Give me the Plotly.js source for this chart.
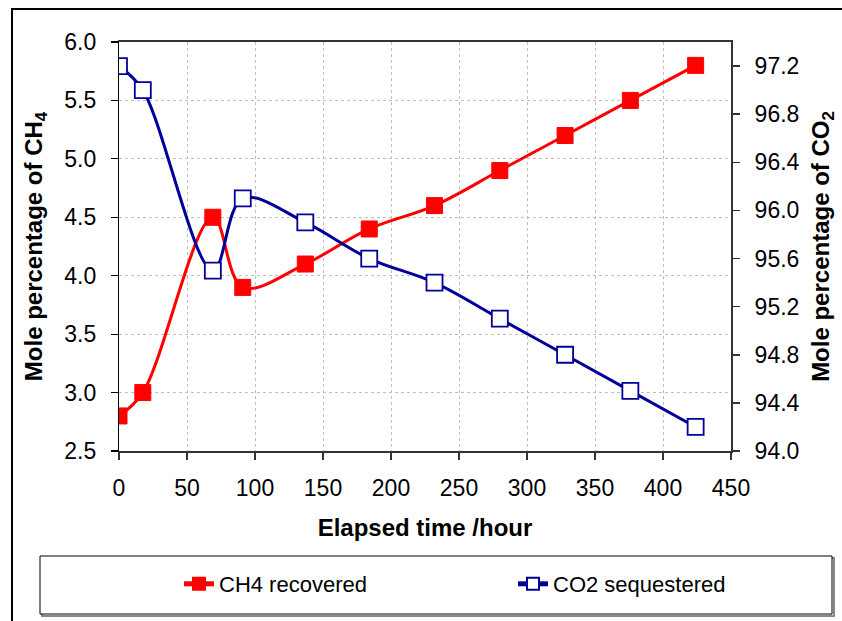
<!DOCTYPE html>
<html>
<head>
<meta charset="utf-8">
<script src="https://cdn.plot.ly/plotly-3.0.1.min.js"></script>
<style>html,body{margin:0;padding:0;background:#fff;}#chart{width:842px;height:621px;}</style>
</head>
<body>
<div id="chart"></div>
<script>
const hours = [0, 17.5, 69, 91, 137, 184, 232, 280, 328, 376, 424];
const ch4Recovered = [2.8, 3.0, 4.5, 3.9, 4.1, 4.4, 4.6, 4.9, 5.2, 5.5, 5.8];
const co2Sequestered = [97.2, 97.0, 95.5, 96.1, 95.9, 95.6, 95.4, 95.1, 94.8, 94.5, 94.2];
const xTicks = [0, 50, 100, 150, 200, 250, 300, 350, 400, 450];
const leftTicks = [2.5, 3.0, 3.5, 4.0, 4.5, 5.0, 5.5, 6.0];
const rightTicks = [94.0, 94.4, 94.8, 95.2, 95.6, 96.0, 96.4, 96.8, 97.2];

const font = 'Arial, "Liberation Sans", sans-serif';
const tickFont = {family: font, size: 23, color: '#000'};
const titleFont = {family: font, size: 24, color: '#000'};
const legendFont = {family: font, size: 22, color: '#000'};

const traces = [
  {
    x: hours, y: ch4Recovered, name: 'CH4 recovered', type: 'scatter', mode: 'lines+markers',
    line: {color: '#FF0000', width: 3, shape: 'spline', smoothing: 1},
    marker: {symbol: 'square', size: 16, color: '#FF0000', line: {color: '#FF0000', width: 1}},
    yaxis: 'y', legend: 'legend'
  },
  {
    x: hours, y: co2Sequestered, name: 'CO2 sequestered', type: 'scatter', mode: 'lines+markers',
    line: {color: '#000099', width: 3, shape: 'spline', smoothing: 1},
    marker: {symbol: 'square', size: 16, color: '#FFFFFF', line: {color: '#000099', width: 1.8}},
    yaxis: 'y2', legend: 'legend2'
  }
];

const P = (px) => (px - 119) / 612;       // paper x from pixel
const Q = (py) => (451 - py) / 409;       // paper y from pixel

const legendBase = {
  orientation: 'h', xanchor: 'left', xref: 'paper',
  y: Q(584), yanchor: 'middle', yref: 'paper',
  font: legendFont, bgcolor: 'rgba(0,0,0,0)', borderwidth: 0, itemsizing: 'constant'
};

const layout = {
  width: 842, height: 621,
  margin: {l: 119, r: 111, t: 42, b: 170},
  paper_bgcolor: '#FFFFFF', plot_bgcolor: '#FFFFFF',
  font: {family: font, size: 22, color: '#000'},
  showlegend: true,
  legend: Object.assign({}, legendBase, {x: P(179)}),
  legend2: Object.assign({}, legendBase, {x: P(513)}),
  xaxis: {
    range: [0, 450], tickvals: xTicks, ticktext: xTicks.map(String),
    showgrid: true, gridcolor: '#BFBFBF', griddash: 'dot', gridwidth: 1,
    showline: true, linecolor: '#333', linewidth: 2, mirror: true,
    ticks: 'outside', ticklen: 7, tickcolor: '#333', tickwidth: 1.5,
    ticklabelstandoff: 8, tickangle: 0,
    tickfont: tickFont,
    zeroline: false,
    title: {text: '<b>Elapsed time /hour</b>', font: titleFont, standoff: 20}
  },
  yaxis: {
    range: [2.5, 6.0], tickvals: leftTicks, ticktext: leftTicks.map(v => v.toFixed(1)),
    showgrid: true, gridcolor: '#BFBFBF', griddash: 'dot', gridwidth: 1,
    showline: true, linecolor: '#000', linewidth: 1.2,
    ticks: 'outside', ticklen: 7, tickcolor: '#000', tickwidth: 1.2,
    ticklabelstandoff: 10,
    tickfont: tickFont,
    zeroline: false,
    title: {text: '<b>Mole percentage of CH<sub>4</sub></b>', font: titleFont, standoff: 14}
  },
  yaxis2: {
    overlaying: 'y', side: 'right',
    range: [94.0, 97.4], tickvals: rightTicks, ticktext: rightTicks.map(v => v.toFixed(1)),
    showgrid: false,
    showline: true, linecolor: '#333', linewidth: 2,
    ticks: 'outside', ticklen: 7, tickcolor: '#333', tickwidth: 1.5,
    ticklabelstandoff: 10,
    tickfont: tickFont,
    zeroline: false,
    title: {text: '<b>Mole percentage of CO<sub>2</sub></b>', font: titleFont, standoff: 14}
  },
  shapes: [
    {type: 'rect', xref: 'paper', yref: 'paper', x0: P(12), x1: P(860), y0: Q(640), y1: Q(9),
     line: {color: '#000', width: 2}, fillcolor: 'rgba(0,0,0,0)', layer: 'below'},
    {type: 'rect', xref: 'paper', yref: 'paper',
     x0: P(42), x1: P(834), y0: Q(616), y1: Q(558),
     line: {color: '#888', width: 2}, fillcolor: 'rgba(0,0,0,0)', layer: 'below'},
    {type: 'rect', xref: 'paper', yref: 'paper',
     x0: P(40), x1: P(832), y0: Q(614), y1: Q(556),
     line: {color: '#000', width: 1}, fillcolor: '#FFFFFF', layer: 'below'}
  ]
};

Plotly.newPlot('chart', traces, layout, {displayModeBar: false, staticPlot: true});
</script>
</body>
</html>
